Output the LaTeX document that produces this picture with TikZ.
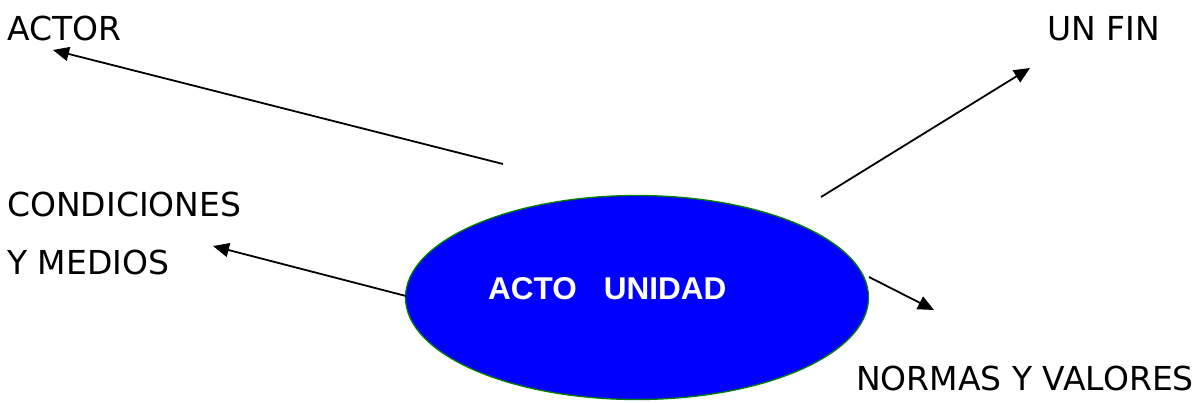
\documentclass[tikz,border=0pt]{standalone}
\usepackage{fontspec}
\setmainfont{DejaVu Sans}
\newfontfamily\boldarial{Liberation Sans}
\usetikzlibrary{shapes.geometric,arrows.meta}
\definecolor{edgegreen}{RGB}{0,128,0}
\definecolor{fillblue}{RGB}{0,0,255}
\tikzset{
  lbl/.style={anchor=base west,inner sep=0pt,font=\fontsize{33}{39}\selectfont},
  conn/.style={line width=1.8pt,-{Triangle[length=16pt,width=14pt]}},
  blob/.style={ellipse,draw=edgegreen,fill=fillblue,line width=1.3pt,minimum width=463pt,minimum height=204pt,inner sep=0pt}
}
\begin{document}
\begin{tikzpicture}[x=1pt,y=-1pt]
\useasboundingbox (0,0) rectangle (1196,402);
\node[blob] (acto) at (637,297.5) {};
\node[anchor=base west,inner sep=0pt,text=white,font=\boldarial\bfseries\fontsize{31.5}{38}\selectfont] (actotxt) at (488,299.5) {ACTO\hspace{27pt}UNIDAD};
\node[lbl] (actor) at (7,40) {ACTOR};
\node[lbl] (fin) at (1047,40) {UN FIN};
\node[lbl] (cond) at (7,216) {CONDICIONES};
\node[lbl] (medios) at (7,274) {Y MEDIOS};
\node[lbl] (normas) at (856,390) {NORMAS Y VALORES};
\coordinate (s1) at (503,164);
\coordinate (t1) at (53,50);
\coordinate (s2) at (821,197);
\coordinate (t2) at (1030,68);
\coordinate (s3) at (406,296);
\coordinate (t3) at (213,246);
\coordinate (s4) at (869,277);
\coordinate (t4) at (934,310);
\draw[conn] (s1) -- (t1);
\draw[conn] (s2) -- (t2);
\draw[conn] (s3) -- (t3);
\draw[conn] (s4) -- (t4);
\end{tikzpicture}
\end{document}
